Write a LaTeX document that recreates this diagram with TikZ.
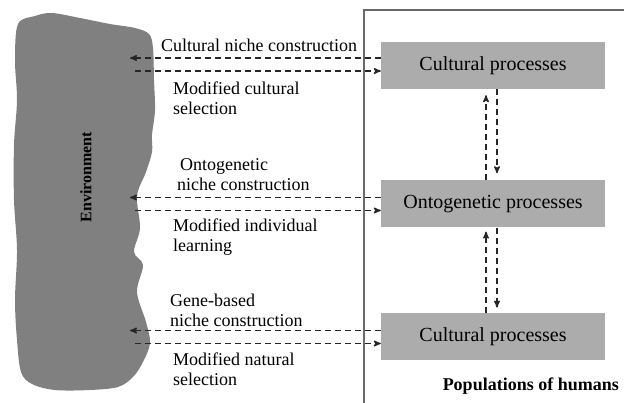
\documentclass[tikz,border=0pt]{standalone}
\usepackage{fontspec}
\setmainfont{Liberation Serif}
\usepackage{xcolor}
\usepackage{tikz}
\usetikzlibrary{shapes, arrows, positioning, calc}
\definecolor{envgray}{RGB}{128,128,128}
\definecolor{boxgray}{RGB}{172,172,172}
\definecolor{framegray}{RGB}{105,105,105}
\tikzset{
    process/.style={
        rectangle,
        fill=boxgray,
        minimum width=224pt,
        minimum height=47pt,
        inner sep=0pt,
        font=\fontsize{20}{22}\selectfont,
    },
    label/.style={
        anchor=west,
        align=left,
        inner sep=0pt,
        font=\fontsize{18}{20}\selectfont,
    },
    link/.style={
        dashed,
        dash pattern=on 6pt off 4pt,
        line width=1.4pt,
        black!85,
    },
}

\begin{document}
\begin{tikzpicture}[x=1pt,y=-1pt,node distance=91pt,>=stealth',auto]
      \useasboundingbox (0,0) rectangle (624,402);

      % environment blob
      \fill[envgray] plot[smooth cycle, tension=0.55] coordinates {
        (18,24) (35,16) (52,13) (80,18) (110,24) (135,28) (149,34) (153,48)
        (154,80) (155,110) (152,135) (152,152) (146,172) (137,196) (140,228)
        (134,252) (143,265) (137,292) (146,322) (150,343) (143,362) (133,377)
        (118,387) (90,390) (55,390) (32,384) (21,372) (17,340) (15,300)
        (17,250) (14,200) (14,145) (17,100) (15,60)};
      \node[rotate=90, font=\fontsize{16}{18}\selectfont\bfseries] (env) at (86,177) {Environment};

      % populations frame
      \draw[framegray, line width=1.6pt] (364,404) -- (364,10) -- (626,10);
      \node[anchor=east, inner sep=0pt, font=\fontsize{18}{20}\selectfont\bfseries] (pop) at (619,386) {Populations of humans};

      % processes
      \node [process] (cult) at (493,65.5) {Cultural processes};
      \node [process, below=of cult] (onto) {Ontogenetic processes};
      \node [process, below=85pt of onto] (gene) {Cultural processes};

      % ends on the environment side
      \coordinate (cult-in) at (130,58);
      \coordinate (cult-out) at (135,71);
      \coordinate (onto-in) at (130,197.5);
      \coordinate (onto-out) at (135,210.5);
      \coordinate (gene-in) at (130,330.5);
      \coordinate (gene-out) at (135,343.5);

      \draw[link,->] (cult-in -| cult.west) -- (cult-in);
      \draw[link,->] (cult-out) -- (cult-out -| cult.west);
      \draw[link,->] (onto-in -| onto.west) -- (onto-in);
      \draw[link,->] (onto-out) -- (onto-out -| onto.west);
      \draw[link,->] (gene-in -| gene.west) -- (gene-in);
      \draw[link,->] (gene-out) -- (gene-out -| gene.west);

      % between processes
      \draw[link,->,shorten >=6pt] ([xshift=-7pt]onto.north) -- ([xshift=-7pt]cult.south);
      \draw[link,->,shorten >=7pt] ([xshift=4pt]cult.south) -- ([xshift=4pt]onto.north);
      \draw[link,->,shorten >=4pt] ([xshift=-7pt]gene.north) -- ([xshift=-7pt]onto.south);
      \draw[link,->,shorten >=5pt] ([xshift=4pt]onto.south) -- ([xshift=4pt]gene.north);

      % labels
      \node[label] (l-cnc) at (161,45) {Cultural niche construction};
      \node[label] (l-mcs) at (173,98) {Modified cultural\\selection};
      \node[label] (l-onc) at (177,175) {\hspace*{3pt}Ontogenetic\\niche construction};
      \node[label] (l-mil) at (173,237) {Modified individual\\learning};
      \node[label] (l-gnc) at (170,310) {Gene-based\\niche construction};
      \node[label] (l-mns) at (173,369) {Modified natural\\selection};
\end{tikzpicture}
\end{document}
